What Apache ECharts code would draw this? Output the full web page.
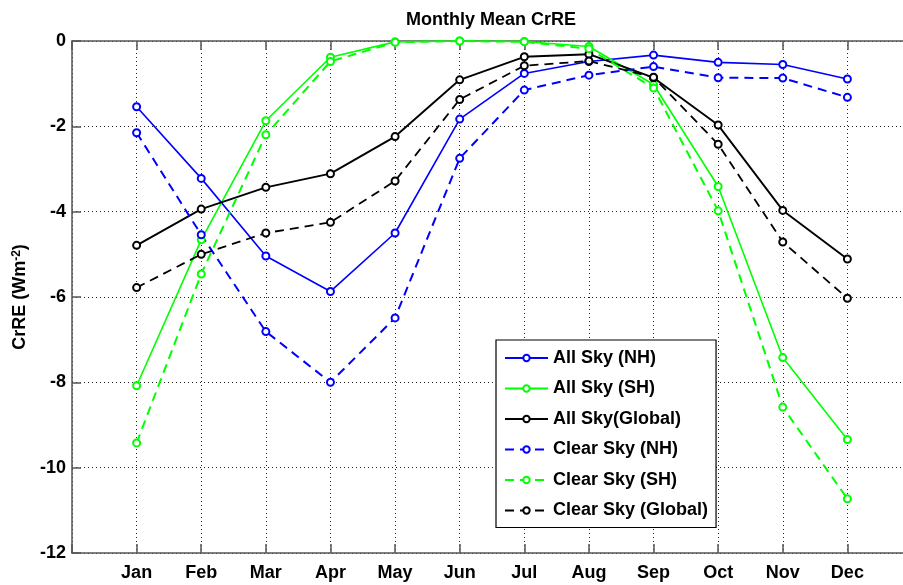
<!DOCTYPE html>
<html>
<head>
<meta charset="utf-8">
<script src="https://cdn.jsdelivr.net/npm/echarts@6/dist/echarts.min.js"></script>
<style>html,body{margin:0;padding:0;background:#fff;overflow:hidden}#c{width:903px;height:585px}</style>
</head>
<body>
<div id="c"></div>
<script>
const months = ['Jan','Feb','Mar','Apr','May','Jun','Jul','Aug','Sep','Oct','Nov','Dec'];
const yTicks = [0, -2, -4, -6, -8, -10, -12];
const allSkyNH = [-1.54, -3.22, -5.04, -5.87, -4.50, -1.83, -0.76, -0.48, -0.33, -0.50, -0.55, -0.89];
const allSkySH = [-8.08, -4.66, -1.87, -0.38, -0.02, 0.0, -0.01, -0.13, -1.02, -3.41, -7.42, -9.34];
const allSkyGlobal = [-4.79, -3.94, -3.43, -3.11, -2.24, -0.91, -0.37, -0.31, -0.86, -1.97, -3.97, -5.11];
const clearSkyNH = [-2.15, -4.54, -6.81, -8.00, -6.49, -2.75, -1.15, -0.80, -0.60, -0.86, -0.87, -1.32];
const clearSkySH = [-9.42, -5.46, -2.20, -0.48, -0.03, 0.0, -0.02, -0.18, -1.10, -3.98, -8.58, -10.73];
const clearSkyGlobal = [-5.78, -5.00, -4.50, -4.25, -3.28, -1.37, -0.58, -0.47, -0.85, -2.42, -4.71, -6.03];
const seriesNames = ['All Sky (NH)','All Sky (SH)','All Sky(Global)','Clear Sky (NH)','Clear Sky (SH)','Clear Sky (Global)'];

const FONT = '"Liberation Sans", Arial, sans-serif';
function toPts(arr){ return arr.map((v,i)=>[i+1, v]); }
function mk(name, data, color, dashed, width){
  return {
    name, type:'line', data: toPts(data),
    symbol:'emptyCircle', symbolSize:7,
    lineStyle:{color, width, type: dashed ? [9,6] : 'solid'},
    itemStyle:{color, borderColor:color, borderWidth:1.4},
    emphasis:{disabled:true},
    animation:false
  };
}
const chart = echarts.init(document.getElementById('c'), null, {renderer:'canvas'});
const axisLineStyle = {color:'#555', width:1.5};
chart.setOption({
  backgroundColor:'#fff',
  animation:false,
  title:{
    text:'Monthly Mean CrRE', left:401, top:6,
    textStyle:{fontFamily:FONT, fontWeight:'bold', fontSize:18, color:'#000'}
  },
  grid:{left:72, top:41, bottom:32, width:840, containLabel:false, outerBoundsMode:'none'},
  legend:{
    orient:'vertical', left:496, top:340,
    data: seriesNames,
    backgroundColor:'#fff', borderColor:'#000', borderWidth:1.2, borderRadius:0,
    padding:[8,8,7,8],
    itemWidth:43, itemHeight:8, itemGap:10.5,
    textStyle:{fontFamily:FONT, fontWeight:'bold', fontSize:18, color:'#000', lineHeight:20},
    selectedMode:false
  },
  xAxis:[{
    type:'value', min:0, max:13, interval:1,
    axisLine:{show:true, onZero:false, lineStyle:axisLineStyle},
    axisTick:{show:true, inside:true, length:9, lineStyle:axisLineStyle},
    axisLabel:{
      margin:11, fontFamily:FONT, fontWeight:'bold', fontSize:18, color:'#000',
      formatter:(v)=> (v>=1 && v<=12) ? months[v-1] : ''
    },
    splitLine:{show:true, lineStyle:{color:'#222', width:1, type:[1,3]}}
  },{
    type:'value', position:'top', min:0, max:13, interval:1,
    axisLine:{show:true, onZero:false, lineStyle:axisLineStyle},
    axisTick:{show:true, inside:true, length:9, lineStyle:axisLineStyle},
    axisLabel:{show:false}, splitLine:{show:false}
  }],
  yAxis:{
    type:'value', min:-12, max:0, interval:2,
    name:'CrRE (Wm{sup|-2})', nameLocation:'middle', nameGap:35,
    nameTextStyle:{fontFamily:FONT, fontWeight:'bold', fontSize:18, color:'#000',
      rich:{sup:{fontFamily:FONT, fontWeight:'bold', fontSize:12, color:'#000', verticalAlign:'top', padding:[0,0,6,0]}}},
    axisLine:{show:true, onZero:false, lineStyle:axisLineStyle},
    axisTick:{show:true, inside:true, length:9, lineStyle:axisLineStyle},
    axisLabel:{margin:6, fontFamily:FONT, fontWeight:'bold', fontSize:18, color:'#000',
      formatter:(v)=> yTicks.includes(v) ? String(v) : ''},
    splitLine:{show:true, lineStyle:{color:'#222', width:1, type:[1,3]}}
  },
  series:[
    mk(seriesNames[0], allSkyNH, '#0000ff', false, 1.6),
    mk(seriesNames[1], allSkySH, '#00ff00', false, 1.6),
    mk(seriesNames[2], allSkyGlobal, '#000000', false, 1.9),
    mk(seriesNames[3], clearSkyNH, '#0000ff', true, 2),
    mk(seriesNames[4], clearSkySH, '#00ff00', true, 2),
    mk(seriesNames[5], clearSkyGlobal, '#000000', true, 1.8)
  ]
});
</script>
</body>
</html>
